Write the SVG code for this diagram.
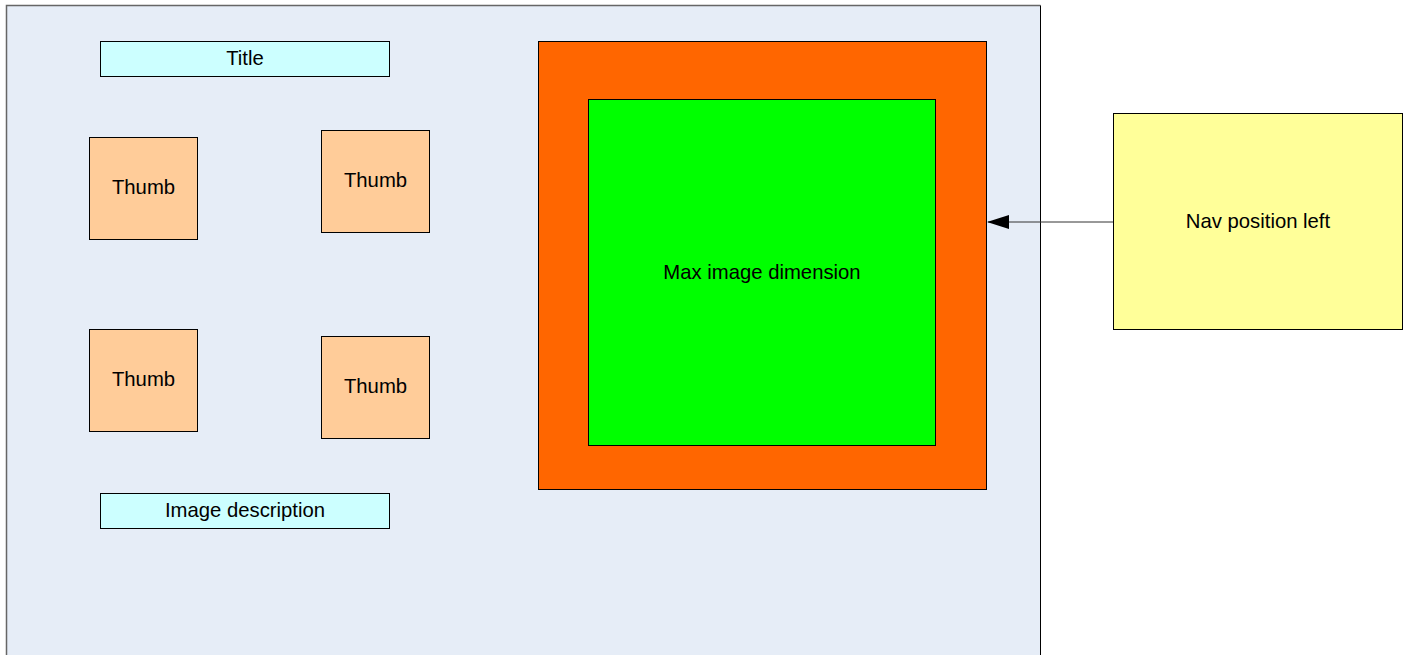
<svg xmlns="http://www.w3.org/2000/svg" width="1408" height="655" viewBox="0 0 1408 655">
<defs>
<style>
text{font-family:"Liberation Sans",Arial,sans-serif;font-size:20.3px;fill:#000;text-anchor:middle;dominant-baseline:central}
.box{stroke:#000;stroke-width:1}
.lbl{fill:#ccffff}
.th{fill:#ffcc99}
</style>
<marker id="arr" markerWidth="22" markerHeight="14" refX="21" refY="7" orient="auto" markerUnits="userSpaceOnUse">
<path d="M0,0 L22,7 L0,14 Z" fill="#000"/>
</marker>
</defs>
<rect width="1408" height="655" fill="#fff"/>
<g id="page">
<rect x="6.5" y="5.5" width="1034" height="660" fill="#e6edf7"/>
<path d="M6.5,660 L6.5,5.5 L1040.5,5.5" fill="none" stroke="#666" stroke-width="1.5"/>
<path d="M1040.5,5.5 L1040.5,660" fill="none" stroke="#000" stroke-width="1"/>
</g>
<g id="title"><rect class="box lbl" x="100.5" y="41.5" width="289" height="35"/><text x="245" y="58">Title</text></g>
<g id="thumb1"><rect class="box th" x="89.5" y="137.5" width="108" height="102"/><text x="143.5" y="187">Thumb</text></g>
<g id="thumb2"><rect class="box th" x="321.5" y="130.5" width="108" height="102"/><text x="375.5" y="180">Thumb</text></g>
<g id="thumb3"><rect class="box th" x="89.5" y="329.5" width="108" height="102"/><text x="143.5" y="379">Thumb</text></g>
<g id="thumb4"><rect class="box th" x="321.5" y="336.5" width="108" height="102"/><text x="375.5" y="386">Thumb</text></g>
<g id="desc"><rect class="box lbl" x="100.5" y="493.5" width="289" height="35"/><text x="245" y="510">Image description</text></g>
<g id="frame"><rect class="box" x="538.5" y="41.5" width="448" height="448" fill="#ff6600"/></g>
<g id="image"><rect class="box" x="588.5" y="99.5" width="347" height="346" fill="#00ff00"/><text x="762" y="272">Max image dimension</text></g>
<g id="nav"><rect class="box" x="1113.5" y="113.5" width="289" height="216" fill="#ffff99"/><text x="1258" y="221">Nav position left</text></g>
<g id="connectors">
<line x1="1113" y1="222" x2="988" y2="222" stroke="#333" stroke-width="1" marker-end="url(#arr)"/>
</g>
</svg>
